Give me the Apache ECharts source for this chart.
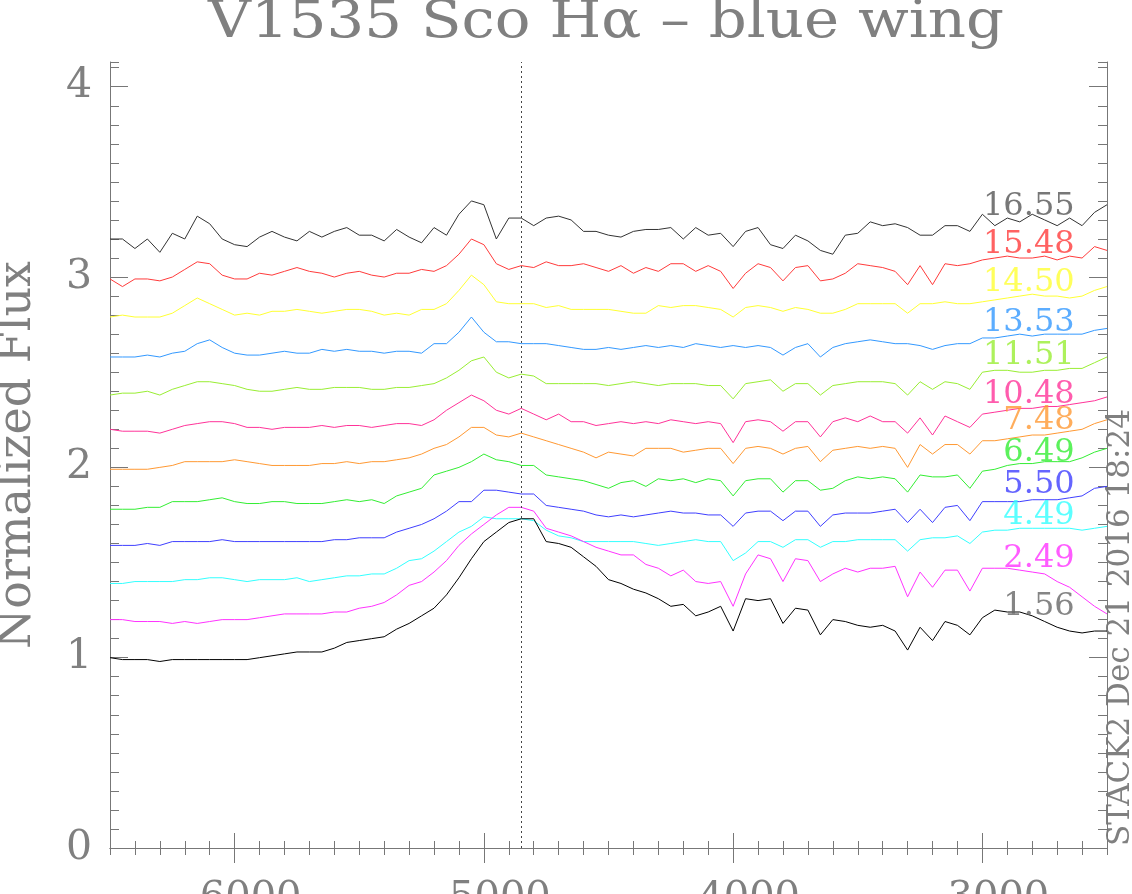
<!DOCTYPE html>
<html>
<head>
<meta charset="utf-8">
<script src="https://cdn.jsdelivr.net/npm/echarts@6/dist/echarts.min.js"></script>
<style>
html, body { margin: 0; padding: 0; background: #fff; }
#main { width: 1132px; height: 894px; }
</style>
</head>
<body>
<div id="main"></div>
<script>
// velocity grid (km/s), blue wing, plotted right to left
var velocity = [
	6500, 6450, 6400, 6350, 6300, 6250, 6200, 6150, 6100, 6050,
	6000, 5950, 5900, 5850, 5800, 5750, 5700, 5650, 5600, 5550,
	5500, 5450, 5400, 5350, 5300, 5250, 5200, 5150, 5100, 5050,
	5000, 4950, 4900, 4850, 4800, 4750, 4700, 4650, 4600, 4550,
	4500, 4450, 4400, 4350, 4300, 4250, 4200, 4150, 4100, 4050,
	4000, 3950, 3900, 3850, 3800, 3750, 3700, 3650, 3600, 3550,
	3500, 3450, 3400, 3350, 3300, 3250, 3200, 3150, 3100, 3050,
	3000, 2950, 2900, 2850, 2800, 2750, 2700, 2650, 2600, 2550,
	2500
];

var flux1655 = [
	3.20, 3.20, 3.15, 3.20, 3.13, 3.23, 3.20, 3.32, 3.28, 3.20,
	3.17, 3.16, 3.21, 3.24, 3.21, 3.19, 3.24, 3.21, 3.24, 3.26,
	3.22, 3.22, 3.19, 3.25, 3.21, 3.18, 3.26, 3.22, 3.33, 3.40,
	3.38, 3.20, 3.31, 3.31, 3.27, 3.31, 3.32, 3.30, 3.24, 3.24,
	3.22, 3.21, 3.24, 3.25, 3.25, 3.26, 3.20, 3.26, 3.22, 3.23,
	3.16, 3.24, 3.26, 3.17, 3.15, 3.22, 3.19, 3.14, 3.12, 3.22,
	3.23, 3.29, 3.27, 3.28, 3.26, 3.22, 3.22, 3.27, 3.27, 3.24,
	3.33, 3.27, 3.31, 3.29, 3.33, 3.30, 3.27, 3.31, 3.27, 3.34,
	3.38
];
var flux1548 = [
	2.99, 2.95, 2.99, 2.99, 2.98, 3.00, 3.04, 3.08, 3.07, 3.01,
	2.99, 2.99, 3.02, 3.01, 3.03, 3.05, 3.03, 3.02, 3.00, 3.02,
	3.03, 3.01, 3.00, 3.02, 3.02, 3.04, 3.03, 3.06, 3.12, 3.20,
	3.17, 3.07, 3.04, 3.06, 3.05, 3.08, 3.06, 3.06, 3.07, 3.05,
	3.03, 3.06, 3.02, 3.05, 3.03, 3.07, 3.07, 3.03, 3.06, 3.03,
	2.94, 3.02, 3.07, 3.05, 2.98, 3.05, 3.06, 2.98, 2.99, 3.02,
	3.07, 3.06, 3.05, 3.03, 2.96, 3.06, 2.96, 3.07, 3.06, 3.07,
	3.09, 3.10, 3.11, 3.10, 3.10, 3.11, 3.09, 3.11, 3.10, 3.16,
	3.14
];
var flux1450 = [
	2.79, 2.80, 2.79, 2.79, 2.79, 2.81, 2.85, 2.89, 2.86, 2.83,
	2.80, 2.81, 2.80, 2.82, 2.82, 2.83, 2.82, 2.81, 2.82, 2.83,
	2.83, 2.82, 2.80, 2.81, 2.80, 2.83, 2.83, 2.86, 2.93, 3.01,
	2.96, 2.87, 2.86, 2.86, 2.86, 2.84, 2.85, 2.83, 2.83, 2.83,
	2.83, 2.82, 2.81, 2.81, 2.85, 2.84, 2.85, 2.85, 2.84, 2.83,
	2.79, 2.84, 2.85, 2.84, 2.82, 2.84, 2.83, 2.81, 2.81, 2.83,
	2.86, 2.86, 2.86, 2.86, 2.81, 2.86, 2.86, 2.87, 2.86, 2.86,
	2.87, 2.88, 2.89, 2.90, 2.91, 2.90, 2.90, 2.89, 2.90, 2.93,
	2.95
];
var flux1353 = [
	2.58, 2.58, 2.58, 2.59, 2.58, 2.60, 2.61, 2.65, 2.67, 2.63,
	2.60, 2.59, 2.59, 2.60, 2.61, 2.60, 2.60, 2.62, 2.61, 2.62,
	2.61, 2.61, 2.60, 2.61, 2.61, 2.60, 2.65, 2.65, 2.71, 2.79,
	2.71, 2.66, 2.66, 2.65, 2.65, 2.65, 2.64, 2.63, 2.62, 2.62,
	2.63, 2.62, 2.63, 2.64, 2.63, 2.64, 2.63, 2.65, 2.64, 2.63,
	2.64, 2.63, 2.64, 2.63, 2.59, 2.63, 2.65, 2.58, 2.63, 2.65,
	2.66, 2.67, 2.66, 2.65, 2.65, 2.64, 2.62, 2.64, 2.65, 2.65,
	2.68, 2.68, 2.69, 2.70, 2.69, 2.70, 2.70, 2.70, 2.70, 2.72,
	2.73
];
var flux1151 = [
	2.38, 2.39, 2.39, 2.40, 2.38, 2.41, 2.43, 2.45, 2.45, 2.44,
	2.43, 2.41, 2.40, 2.40, 2.41, 2.42, 2.41, 2.41, 2.42, 2.42,
	2.42, 2.41, 2.41, 2.42, 2.42, 2.43, 2.44, 2.47, 2.51, 2.56,
	2.58, 2.50, 2.47, 2.49, 2.48, 2.44, 2.44, 2.44, 2.44, 2.44,
	2.43, 2.44, 2.45, 2.44, 2.43, 2.44, 2.44, 2.44, 2.43, 2.43,
	2.36, 2.44, 2.45, 2.46, 2.40, 2.44, 2.44, 2.38, 2.43, 2.44,
	2.45, 2.45, 2.45, 2.44, 2.38, 2.45, 2.41, 2.45, 2.44, 2.41,
	2.50, 2.51, 2.51, 2.50, 2.50, 2.51, 2.51, 2.52, 2.52, 2.55,
	2.58
];
var flux1048 = [
	2.20, 2.19, 2.19, 2.19, 2.18, 2.20, 2.22, 2.23, 2.24, 2.24,
	2.23, 2.21, 2.21, 2.20, 2.21, 2.21, 2.21, 2.22, 2.21, 2.22,
	2.22, 2.21, 2.22, 2.23, 2.23, 2.22, 2.25, 2.30, 2.34, 2.38,
	2.35, 2.30, 2.28, 2.31, 2.28, 2.25, 2.28, 2.24, 2.24, 2.22,
	2.23, 2.24, 2.23, 2.24, 2.23, 2.25, 2.24, 2.23, 2.24, 2.23,
	2.13, 2.24, 2.25, 2.24, 2.19, 2.24, 2.24, 2.16, 2.24, 2.26,
	2.24, 2.27, 2.24, 2.24, 2.18, 2.26, 2.17, 2.27, 2.24, 2.21,
	2.28, 2.29, 2.30, 2.31, 2.31, 2.32, 2.32, 2.33, 2.34, 2.35,
	2.37
];
var flux748 = [
	1.99, 1.99, 1.99, 1.99, 2.00, 2.01, 2.03, 2.03, 2.03, 2.03,
	2.04, 2.03, 2.02, 2.01, 2.01, 2.01, 2.01, 2.02, 2.02, 2.03,
	2.02, 2.03, 2.03, 2.04, 2.05, 2.07, 2.10, 2.12, 2.16, 2.21,
	2.21, 2.17, 2.16, 2.18, 2.16, 2.14, 2.12, 2.10, 2.08, 2.05,
	2.08, 2.07, 2.06, 2.10, 2.10, 2.10, 2.08, 2.09, 2.10, 2.10,
	2.02, 2.10, 2.11, 2.10, 2.07, 2.10, 2.11, 2.03, 2.09, 2.10,
	2.11, 2.10, 2.11, 2.10, 2.00, 2.12, 2.07, 2.12, 2.12, 2.07,
	2.14, 2.14, 2.15, 2.16, 2.17, 2.17, 2.18, 2.19, 2.20, 2.23,
	2.25
];
var flux649 = [
	1.78, 1.78, 1.78, 1.79, 1.79, 1.82, 1.82, 1.82, 1.83, 1.84,
	1.82, 1.81, 1.81, 1.82, 1.82, 1.81, 1.81, 1.81, 1.82, 1.83,
	1.82, 1.83, 1.81, 1.85, 1.87, 1.89, 1.96, 1.98, 2.00, 2.03,
	2.07, 2.04, 2.03, 2.01, 2.01, 1.96, 1.95, 1.94, 1.93, 1.91,
	1.89, 1.92, 1.93, 1.90, 1.94, 1.93, 1.94, 1.92, 1.94, 1.93,
	1.85, 1.93, 1.94, 1.94, 1.87, 1.93, 1.93, 1.88, 1.89, 1.93,
	1.95, 1.94, 1.95, 1.94, 1.87, 1.96, 1.95, 1.95, 1.96, 1.89,
	1.98, 1.99, 2.01, 2.02, 2.02, 2.03, 2.03, 2.03, 2.05, 2.08,
	2.10
];
var flux550 = [
	1.59, 1.59, 1.59, 1.60, 1.59, 1.61, 1.61, 1.61, 1.61, 1.62,
	1.61, 1.61, 1.61, 1.61, 1.61, 1.61, 1.61, 1.61, 1.62, 1.62,
	1.63, 1.63, 1.63, 1.66, 1.68, 1.70, 1.73, 1.77, 1.82, 1.82,
	1.88, 1.88, 1.87, 1.86, 1.86, 1.80, 1.79, 1.78, 1.77, 1.75,
	1.74, 1.75, 1.74, 1.75, 1.76, 1.77, 1.76, 1.76, 1.75, 1.75,
	1.69, 1.76, 1.77, 1.77, 1.72, 1.77, 1.77, 1.69, 1.75, 1.76,
	1.76, 1.76, 1.77, 1.78, 1.71, 1.78, 1.71, 1.79, 1.80, 1.72,
	1.82, 1.82, 1.82, 1.82, 1.83, 1.83, 1.83, 1.84, 1.85, 1.89,
	1.90
];
var flux449 = [
	1.39, 1.39, 1.40, 1.40, 1.40, 1.40, 1.41, 1.41, 1.42, 1.42,
	1.41, 1.40, 1.41, 1.41, 1.41, 1.42, 1.40, 1.41, 1.42, 1.43,
	1.43, 1.44, 1.44, 1.47, 1.51, 1.52, 1.56, 1.61, 1.66, 1.69,
	1.74, 1.73, 1.73, 1.73, 1.72, 1.67, 1.64, 1.63, 1.61, 1.61,
	1.61, 1.61, 1.61, 1.60, 1.59, 1.60, 1.61, 1.62, 1.61, 1.61,
	1.51, 1.55, 1.61, 1.61, 1.58, 1.62, 1.62, 1.58, 1.61, 1.61,
	1.62, 1.62, 1.62, 1.62, 1.56, 1.62, 1.63, 1.63, 1.64, 1.60,
	1.66, 1.67, 1.67, 1.68, 1.68, 1.68, 1.68, 1.68, 1.67, 1.68,
	1.69
];
var flux249 = [
	1.20, 1.20, 1.19, 1.19, 1.19, 1.18, 1.19, 1.18, 1.19, 1.20,
	1.20, 1.20, 1.21, 1.22, 1.23, 1.23, 1.23, 1.23, 1.24, 1.24,
	1.26, 1.27, 1.29, 1.33, 1.38, 1.40, 1.45, 1.51, 1.59, 1.65,
	1.70, 1.75, 1.79, 1.79, 1.77, 1.68, 1.66, 1.64, 1.61, 1.58,
	1.56, 1.54, 1.54, 1.49, 1.47, 1.43, 1.46, 1.40, 1.39, 1.40,
	1.27, 1.44, 1.54, 1.52, 1.40, 1.52, 1.51, 1.40, 1.44, 1.47,
	1.45, 1.47, 1.47, 1.48, 1.32, 1.45, 1.37, 1.46, 1.46, 1.35,
	1.47, 1.47, 1.47, 1.46, 1.45, 1.44, 1.40, 1.37, 1.32, 1.27,
	1.23
];
var flux156 = [
	1.00, 0.99, 0.99, 0.99, 0.98, 0.99, 0.99, 0.99, 0.99, 0.99,
	0.99, 0.99, 1.00, 1.01, 1.02, 1.03, 1.03, 1.03, 1.05, 1.08,
	1.09, 1.10, 1.11, 1.15, 1.18, 1.22, 1.26, 1.33, 1.42, 1.52,
	1.61, 1.66, 1.71, 1.73, 1.73, 1.61, 1.60, 1.58, 1.53, 1.48,
	1.41, 1.39, 1.36, 1.34, 1.31, 1.27, 1.28, 1.22, 1.24, 1.27,
	1.14, 1.31, 1.30, 1.31, 1.18, 1.26, 1.25, 1.12, 1.20, 1.19,
	1.17, 1.16, 1.17, 1.14, 1.04, 1.16, 1.09, 1.19, 1.17, 1.12,
	1.21, 1.25, 1.24, 1.24, 1.22, 1.19, 1.16, 1.14, 1.13, 1.14,
	1.14
];

var epochs = ['16.55', '15.48', '14.50', '13.53', '11.51', '10.48', '7.48', '6.49', '5.50', '4.49', '2.49', '1.56'];
var spectra = [flux1655, flux1548, flux1450, flux1353, flux1151, flux1048, flux748, flux649, flux550, flux449, flux249, flux156];
var labelY = [3.37, 3.17, 2.97, 2.76, 2.585, 2.38, 2.245, 2.075, 1.91, 1.745, 1.52, 1.27];
var labelX = 2630;
var lineColors = ['#333333', '#ff3b3b', '#ffff33', '#3399ff', '#99ee33', '#ff3399',
	'#ff9933', '#33ee33', '#3f3fff', '#33ffff', '#ff33ff', '#000000'];
var textColors = ['#555555', '#ff3b3b', '#ffff33', '#3399ff', '#99ee33', '#ff3399',
	'#ff9933', '#33ee33', '#3f3fff', '#33ffff', '#ff33ff', '#666666'];

var xMajor = [3000, 4000, 5000, 6000];
var yMajor = [0, 1, 2, 3, 4];
var restLine = 4850;

var FONT = 'DejaVu Serif';
var GREY = '#808080';

window.onload = function() {
	var chart = echarts.init(document.getElementById('main'));

	var series = [];
	for (var s = 0; s < spectra.length; s++) {
		var pts = [];
		for (var i = 0; i < velocity.length; i++) {
			pts.push([velocity[i], spectra[s][i]]);
		}
		series.push({
			name: epochs[s],
			type: 'line',
			data: pts,
			showSymbol: false,
			symbol: 'none',
			lineStyle: { color: lineColors[s], width: 1 },
			z: 3
		});
	}
	// dotted marker
	series[0].markLine = {
		silent: true,
		symbol: ['none', 'none'],
		label: { show: false },
		lineStyle: { color: '#444', type: [2, 3], width: 1 },
		data: [{ xAxis: restLine }]
	};

	var labelData = [];
	for (var k = 0; k < epochs.length; k++) {
		labelData.push({
			value: [labelX, labelY[k]],
			label: { color: textColors[k] }
		});
	}
	series.push({
		type: 'scatter',
		data: labelData,
		symbolSize: 0,
		silent: true,
		z: 5,
		label: {
			show: true,
			position: 'left',
			distance: 0,
			fontFamily: FONT,
			fontSize: 32,
			formatter: function(p) { return epochs[p.dataIndex]; }
		}
	});

	var lineSt = { show: true, lineStyle: { color: '#777', width: 1 } };
	var xBase = { type: 'value', min: 2500, max: 6500, inverse: true, splitLine: { show: false } };
	var yBase = { type: 'value', min: 0, max: 4.13, splitLine: { show: false } };

	var option = {
		animation: false,
		backgroundColor: '#fff',
		grid: { left: 110, right: 25, top: 62, bottom: 46, outerBoundsMode: 'none' },
		xAxis: [
			Object.assign({}, xBase, {
				position: 'bottom', interval: 100, axisLine: lineSt,
				axisTick: { inside: true, length: 7, lineStyle: { color: '#777' } },
				axisLabel: { show: false }
			}),
			Object.assign({}, xBase, {
				position: 'bottom', axisLine: { show: false },
				axisTick: { inside: true, length: 15, customValues: xMajor, lineStyle: { color: '#777' } },
				axisLabel: {
					customValues: xMajor, fontFamily: FONT, fontSize: 40, color: GREY,
					margin: 31, padding: [0, 0, 0, 32],
					formatter: function(v) { return String(v); }
				}
			}),
			Object.assign({}, xBase, {
				position: 'top', interval: 100, axisLine: lineSt,
				axisTick: { inside: true, length: 7, lineStyle: { color: '#777' } },
				axisLabel: { show: false }
			}),
			Object.assign({}, xBase, {
				position: 'top', axisLine: { show: false },
				axisTick: { inside: true, length: 15, customValues: xMajor, lineStyle: { color: '#777' } },
				axisLabel: { show: false }
			})
		],
		yAxis: [
			Object.assign({}, yBase, {
				position: 'left', interval: 0.1, axisLine: lineSt,
				axisTick: { inside: true, length: 9, lineStyle: { color: '#777' } },
				axisLabel: { show: false }
			}),
			Object.assign({}, yBase, {
				position: 'left', axisLine: { show: false },
				axisTick: { inside: true, length: 18, customValues: yMajor, lineStyle: { color: '#777' } },
				axisLabel: { customValues: yMajor, fontFamily: FONT, fontSize: 41, color: GREY, margin: 18 }
			}),
			Object.assign({}, yBase, {
				position: 'right', interval: 0.1, axisLine: lineSt,
				axisTick: { inside: true, length: 9, lineStyle: { color: '#777' } },
				axisLabel: { show: false }
			}),
			Object.assign({}, yBase, {
				position: 'right', axisLine: { show: false },
				axisTick: { inside: true, length: 18, customValues: yMajor, lineStyle: { color: '#777' } },
				axisLabel: { show: false }
			})
		],
		graphic: [
			{
				type: 'text', x: 606, y: 23, scaleX: 1.12,
				style: { text: 'V1535 Sco H\u03b1 \u2013 blue wing', font: '53px "DejaVu Serif"', fill: GREY, align: 'center', verticalAlign: 'middle' }
			},
			{
				type: 'text', x: 18, y: 455, rotation: Math.PI / 2,
				style: { text: 'Normalized Flux', font: '46px "DejaVu Serif"', fill: GREY, align: 'center', verticalAlign: 'middle' }
			},
			{
				type: 'text', x: 1121, y: 846, rotation: Math.PI / 2,
				style: { text: 'STACK2 Dec 21 2016 18:24', font: '31px "DejaVu Serif"', fill: GREY, align: 'left', verticalAlign: 'middle' }
			}
		],
		series: series
	};
	chart.setOption(option);
};
</script>
</body>
</html>
